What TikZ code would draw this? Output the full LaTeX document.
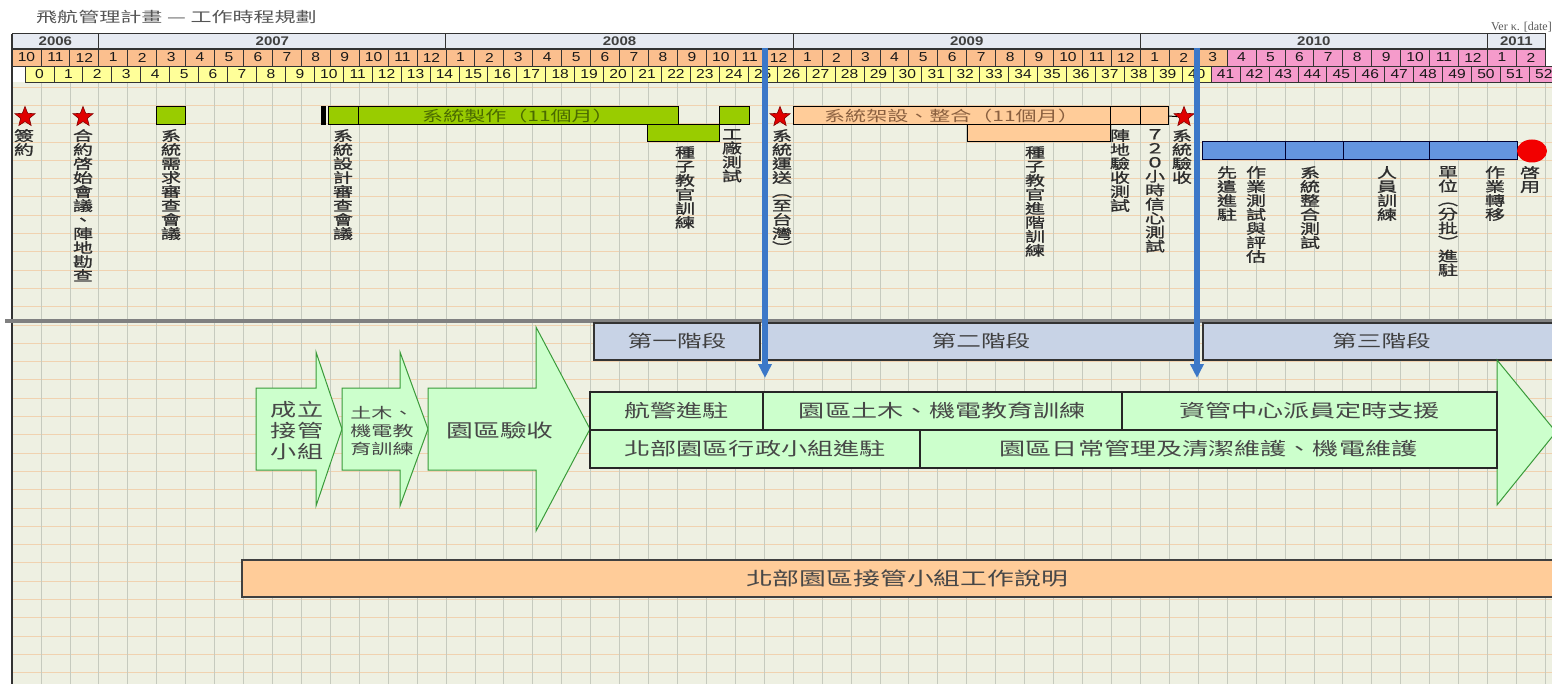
\documentclass[tikz,border=0pt]{standalone}
\usepackage{fontspec}
\usetikzlibrary{shapes.geometric,arrows.meta}
\newfontfamily\cjkfont[FakeStretch=1.45]{Noto Sans CJK TC}
\newfontfamily\cjkboldfont[FakeStretch=1.45,FakeBold=1.2]{Noto Sans CJK TC}
\newfontfamily\hdrfont[FakeStretch=1.2]{Liberation Sans}
\newfontfamily\verfont{Liberation Serif}
\definecolor{bg}{HTML}{EEF0E2}
\definecolor{gridv}{HTML}{C6CABE}
\definecolor{gridh}{HTML}{F0D2B0}
\definecolor{yearfill}{HTML}{E6EAF2}
\definecolor{monthor}{HTML}{FBBF8E}
\definecolor{monthpk}{HTML}{F59BCB}
\definecolor{numyel}{HTML}{FFFF99}
\definecolor{bargreen}{HTML}{99CC00}
\definecolor{barpeach}{HTML}{FFCC99}
\definecolor{barblue}{HTML}{6495E0}
\definecolor{bluearrow}{HTML}{3C78C8}
\definecolor{phasefill}{HTML}{C8D3E6}
\definecolor{lightgreen}{HTML}{CCFFCC}
\definecolor{arrowgreen}{HTML}{3A9A3A}
\definecolor{starred}{HTML}{E00000}
\definecolor{labelgray}{HTML}{2E2E2E}
\definecolor{titlegray}{HTML}{555555}
\definecolor{bartextgreen}{HTML}{4A6A00}
\definecolor{bartextbrown}{HTML}{8A6040}
\definecolor{cellline}{HTML}{333333}
\begin{document}
\begin{tikzpicture}[x=1pt,y=-1pt,
  cell/.style={draw=cellline,line width=0.8pt,inner sep=0,outer sep=0,minimum height=16pt,font=\hdrfont\fontsize{13}{13}\selectfont,text=black!90},
  monthcell/.style={cell,minimum width=28.93pt,minimum height=17pt},
  numcell/.style={cell,minimum width=28.93pt},
  yearcell/.style={draw=cellline,line width=1pt,fill=yearfill,inner sep=0,outer sep=0,minimum height=15pt,font=\hdrfont\bfseries\fontsize{12.5}{12.5}\selectfont,text=black!75},
  bar/.style={draw=black,line width=1pt,inner sep=0,outer sep=0,anchor=north west,minimum height=18pt},
  vlabel/.style={anchor=north,align=center,inner sep=0,font=\cjkboldfont\fontsize{13.8}{14}\selectfont,text=labelgray},
  redstar/.style={star,star points=5,star point ratio=2.3,fill=starred,draw=red!50!black,line width=0.6pt,minimum size=21pt,inner sep=0},
  phase/.style={draw=black!80,line width=1.2pt,fill=phasefill,inner sep=0,outer sep=0,anchor=north west,minimum height=37pt,font=\cjkfont\fontsize{17}{17}\selectfont,text=black!75},
  tcell/.style={draw=black!85,line width=1.2pt,fill=lightgreen,inner sep=0,outer sep=0,anchor=north west,minimum height=38pt,font=\cjkfont\fontsize{18}{18}\selectfont,text=black!72},
  garrow/.style={draw=arrowgreen,line width=1pt,fill=lightgreen,line join=miter},
  atext/.style={align=center,inner sep=0,text=black!72},
  bluearr/.style={draw=bluearrow,line width=6pt,-{Triangle[length=14pt,width=13pt]}}
]
\path[use as bounding box] (0,0) rectangle (1552,684);
\begin{scope}
\clip (0,0) rectangle (1552,684);
\fill[white] (0,0) rectangle (1552,684);
% grid background
\fill[bg] (12,82) rectangle (1552,684);
\foreach \k in {0,...,33}{
  \draw[gridh,line width=0.7pt] (12,{87+\k*18.3}) -- (1552,{87+\k*18.3});
}
\foreach \k in {0,...,53}{
  \draw[gridv,line width=0.7pt] ({12+\k*28.93},82) -- ({12+\k*28.93},684);
}
% title
\node[anchor=west,inner sep=0,font=\cjkfont\fontsize{14.5}{14.5}\selectfont,text=titlegray] (title) at (36,17) {飛航管理計畫 — 工作時程規劃};
\node[anchor=east,inner sep=0,font=\verfont\fontsize{12}{12}\selectfont,text=black!65] (ver) at (1552,27) {Ver κ. [date]};
% year row
\node[yearcell,minimum width=86.79pt] (y2006) at (55.4,41.5) {2006};
\node[yearcell,minimum width=347.16pt] (y2007) at (272.37,41.5) {2007};
\node[yearcell,minimum width=347.16pt] (y2008) at (619.53,41.5) {2008};
\node[yearcell,minimum width=347.16pt] (y2009) at (966.69,41.5) {2009};
\node[yearcell,minimum width=347.16pt] (y2010) at (1313.85,41.5) {2010};
\node[yearcell,minimum width=57.86pt] (y2011) at (1516.36,41.5) {2011};
% month row
\foreach \i in {0,...,52}{
  \pgfmathtruncatemacro{\mm}{mod(\i+9,12)+1}
  \ifnum\i<42\relax \def\fc{monthor}\else\def\fc{monthpk}\fi
  \node[monthcell,fill=\fc] (m\i) at ({12+\i*28.93+14.465},57.5) {\mm};
}
% number row
\foreach \i in {0,...,52}{
  \ifnum\i<41\relax \def\fc{numyel}\else\def\fc{monthpk}\fi
  \node[numcell,fill=\fc] (n\i) at ({25+\i*28.93+14.465},74) {\i};
}
\draw[cellline,line width=1.5pt] (12,34) -- (12,684);
% top bars
\node[redstar] (s1) at (25,117) {};
\node[redstar] (s2) at (83,117) {};
\node[bar,fill=bargreen,minimum width=29pt] (g0) at (156,107) {};
\node[bar,fill=black,minimum width=4pt] (gk) at (321,107) {};
\node[bar,fill=bargreen,minimum width=30pt] (g1) at (328,107) {};
\node[bar,fill=bargreen,minimum width=320pt,font=\cjkfont\fontsize{14.5}{14.5}\selectfont,text=bartextgreen] (g2) at (358,107) {系統製作（11個月）};
\node[bar,fill=bargreen,minimum width=72pt,minimum height=17pt] (g3) at (647,125) {};
\node[bar,fill=bargreen,minimum width=30pt] (g4) at (719,107) {};
\node[redstar] (s3) at (780,117) {};
\node[bar,fill=barpeach,minimum width=317pt,font=\cjkfont\fontsize{14.5}{14.5}\selectfont,text=bartextbrown] (p1) at (793,107) {系統架設、整合（11個月）};
\node[bar,fill=barpeach,minimum width=143pt,minimum height=17pt] (p0) at (967,125) {};
\node[bar,fill=barpeach,minimum width=30pt] (p2) at (1110,107) {};
\node[bar,fill=barpeach,minimum width=28pt] (p3) at (1140,107) {};
\node[redstar] (s4) at (1184,117) {};
\draw[black,line width=1pt] (p3.east) -- (s4);
\node[bar,fill=barblue,draw=black!80!blue,minimum width=83pt] (u1) at (1202,142) {};
\node[bar,fill=barblue,draw=black!80!blue,minimum width=58pt] (u2) at (1285,142) {};
\node[bar,fill=barblue,draw=black!80!blue,minimum width=86pt] (u3) at (1343,142) {};
\node[bar,fill=barblue,draw=black!80!blue,minimum width=88pt] (u4) at (1429,142) {};
\node[ellipse,fill=red!95!black,minimum width=30pt,minimum height=23pt,inner sep=0] (ud) at (1532,151) {};
% vertical labels
\node[vlabel] (l1) at (24,129) {簽\\約};
\node[vlabel] (l2) at (83,129) {合\\約\\啓\\始\\會\\議\\、\\陣\\地\\勘\\查};
\node[vlabel] (l3) at (171,129) {系\\統\\需\\求\\審\\查\\會\\議};
\node[vlabel] (l4) at (343,129) {系\\統\\設\\計\\審\\查\\會\\議};
\node[vlabel] (l5) at (685,146) {種\\子\\教\\官\\訓\\練};
\node[vlabel] (l6) at (732,129) {工\\廠\\測\\試};
\node[vlabel] (l7) at (782,129) {系\\統\\運\\送\\︵\\至\\台\\灣\\︶};
\node[vlabel] (l8) at (1035,146) {種\\子\\教\\官\\進\\階\\訓\\練};
\node[vlabel] (l9) at (1120,129) {陣\\地\\驗\\收\\測\\試};
\node[vlabel] (l10) at (1155,129) {７\\２\\０\\小\\時\\信\\心\\測\\試};
\node[vlabel] (l11) at (1182,129) {系\\統\\驗\\收};
\node[vlabel] (l12) at (1227,166) {先\\遣\\進\\駐};
\node[vlabel] (l13) at (1256,166) {作\\業\\測\\試\\與\\評\\估};
\node[vlabel] (l14) at (1310,166) {系\\統\\整\\合\\測\\試};
\node[vlabel] (l15) at (1387,166) {人\\員\\訓\\練};
\node[vlabel] (l16) at (1448,166) {單\\位\\︵\\分\\批\\︶\\進\\駐};
\node[vlabel] (l17) at (1495,166) {作\\業\\轉\\移};
\node[vlabel] (l18) at (1530,166) {啓\\用};
% separator
\draw[black!50,line width=4pt] (5,321) -- (1552,321);
% phases
\node[phase,minimum width=166pt] (ph1) at (594,323) {第一階段};
\node[phase,minimum width=430pt] (ph2) at (766,323) {第二階段};
\node[phase,minimum width=357pt] (ph3) at (1203,323) {第三階段};
% green arrows
\draw[garrow] (1497,360) -- (1556,432) -- (1497,505) -- cycle;
\draw[garrow] (256,388) -- (316,388) -- (316,352) -- (342,429) -- (316,506) -- (316,470) -- (256,470) -- cycle;
\draw[garrow] (342,388) -- (400,388) -- (400,352) -- (428,429) -- (400,506) -- (400,470) -- (342,470) -- cycle;
\draw[garrow] (428,388) -- (536,388) -- (536,327) -- (590,429) -- (536,531) -- (536,470) -- (428,470) -- cycle;
\node[atext,font=\cjkfont\fontsize{18}{21}\selectfont] (a1) at (297,431) {成立\\接管\\小組};
\node[atext,font=\cjkfont\fontsize{14.5}{18}\selectfont] (a2) at (382,431) {土木、\\機電教\\育訓練};
\node[atext,font=\cjkfont\fontsize{18.5}{18.5}\selectfont] (a3) at (500,430) {園區驗收};
% table
\node[tcell,minimum width=173pt] (t11) at (590,392) {航警進駐};
\node[tcell,minimum width=359pt] (t12) at (763,392) {園區土木、機電教育訓練};
\node[tcell,minimum width=375pt] (t13) at (1122,392) {資管中心派員定時支援};
\node[tcell,minimum width=330pt] (t21) at (590,430) {北部園區行政小組進駐};
\node[tcell,minimum width=577pt] (t22) at (920,430) {園區日常管理及清潔維護、機電維護};
% bottom box
\node[draw=black!75,line width=1.5pt,fill=barpeach,inner sep=0,outer sep=0,anchor=north west,minimum width=1330pt,minimum height=37pt,font=\cjkfont\fontsize{18.5}{18.5}\selectfont,text=black!72] (desc) at (242,560) {北部園區接管小組工作說明};
% blue milestone arrows
\coordinate (b1s) at (765,48);
\coordinate (b1e) at (765,378);
\coordinate (b2s) at (1197,48);
\coordinate (b2e) at (1197,378);
\draw[bluearr] (b1s) -- (b1e);
\draw[bluearr] (b2s) -- (b2e);
\end{scope}
\end{tikzpicture}
\end{document}
